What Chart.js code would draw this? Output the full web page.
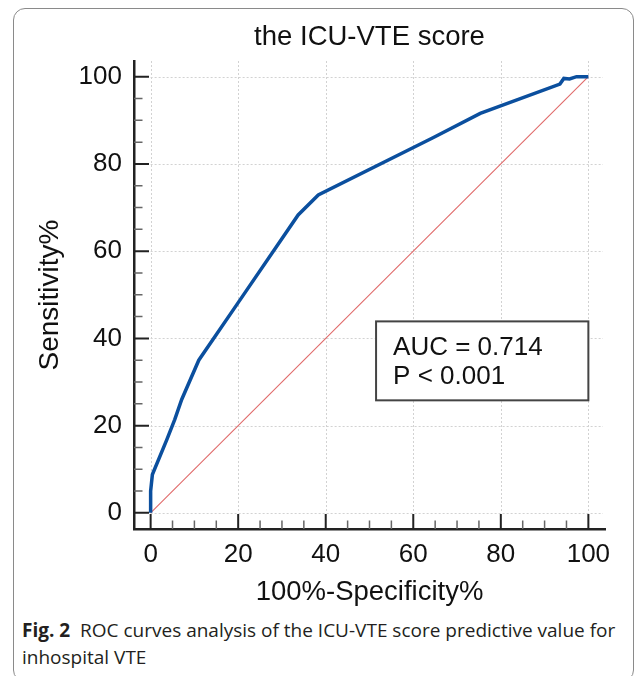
<!DOCTYPE html>
<html>
<head>
<meta charset="utf-8">
<script src="https://cdn.jsdelivr.net/npm/chart.js@4.4.1/dist/chart.umd.min.js"></script>
<style>
  html, body { margin: 0; padding: 0; background: #fff; width: 637px; height: 676px; overflow: hidden; }
  .c-frame { position: absolute; left: 13px; top: 8px; width: 621px; height: 674px; border: 1px solid #8a8a8a; border-radius: 12px; box-sizing: border-box; pointer-events: none; }
  .c-chart { position: absolute; left: 0; top: 0; width: 637px; height: 615px; }
  .c-caption { position: absolute; left: 22px; top: 617px; font-family: 'Open Sans', sans-serif; font-size: 19px; line-height: 27px; color: #231f20; white-space: nowrap; letter-spacing: 0; }
  .c-caption b { font-weight: 700; }
</style>
</head>
<body>
<div class="c-chart"><canvas id="rocChart"></canvas></div>
<div class="c-caption"><b>Fig. 2</b>&nbsp; ROC curves analysis of the ICU-VTE score predictive value for<br>inhospital VTE</div>
<div class="c-frame"></div>
<script>
// ROC curve (100%-Specificity%, Sensitivity%)
const fpr = [0, 0, 0.4, 3.7, 5.5, 7.1, 11, 20, 33.7, 38.3, 64.5, 75.3, 93.5, 94.4, 95.7, 97.3, 100];
const tpr = [0, 5, 8.8, 16.8, 21.4, 26, 35, 48.2, 68.3, 72.9, 86, 91.6, 98.3, 99.6, 99.5, 100, 100];
// chance line
const refX = [0, 100];
const refY = [0, 100];
// tick labels
const xTicks = [0, 20, 40, 60, 80, 100];
const yTicks = [0, 20, 40, 60, 80, 100];
const minorStep = 5;
// annotation text
const statLines = ['AUC = 0.714', 'P < 0.001'];

const FONT = "'Liberation Sans', Arial, sans-serif";

const rocFrame = {
  id: 'rocFrame',
  beforeDatasetsDraw(chart) {
    const { ctx, chartArea, scales: { x, y } } = chart;
    const x0 = x.getPixelForValue(0);
    const y0 = y.getPixelForValue(0);
    ctx.save();
    ctx.strokeStyle = '#d2d2d2';
    ctx.lineWidth = 1;
    ctx.setLineDash([2, 2]);
    ctx.beginPath();
    xTicks.forEach(function (v) {
      const px = Math.round(x.getPixelForValue(v)) + 0.5;
      ctx.moveTo(px, chartArea.top);
      ctx.lineTo(px, y0);
    });
    yTicks.forEach(function (v) {
      const py = Math.round(y.getPixelForValue(v)) + 0.5;
      ctx.moveTo(x0, py);
      ctx.lineTo(chartArea.right - 2, py);
    });
    ctx.stroke();
    ctx.restore();
  },
  afterDraw(chart, args, opts) {
    const { ctx, chartArea, scales: { x, y } } = chart;
    ctx.save();
    // inward ticks, major + minor
    for (let v = 0; v <= 100; v += minorStep) {
      const major = xTicks.includes(v);
      const len = major ? 15 : 8.5;
      ctx.strokeStyle = major ? '#222' : '#666';
      ctx.lineWidth = major ? 2 : 1.5;
      const px = x.getPixelForValue(v);
      const py = y.getPixelForValue(v);
      ctx.beginPath();
      ctx.moveTo(px, chartArea.bottom);
      ctx.lineTo(px, chartArea.bottom - len);
      ctx.moveTo(chartArea.left, py);
      ctx.lineTo(chartArea.left + len, py);
      ctx.stroke();
    }
    // AUC box
    const bx = x.getPixelForValue(opts.box[0]);
    const bx2 = x.getPixelForValue(opts.box[1]);
    const by = y.getPixelForValue(opts.box[3]);
    const by2 = y.getPixelForValue(opts.box[2]);
    ctx.fillStyle = '#fff';
    ctx.fillRect(bx, by, bx2 - bx, by2 - by);
    ctx.strokeStyle = '#444';
    ctx.lineWidth = 2;
    ctx.strokeRect(bx, by, bx2 - bx, by2 - by);
    ctx.fillStyle = '#111';
    ctx.font = '26px ' + FONT;
    ctx.textBaseline = 'middle';
    ctx.textAlign = 'left';
    statLines.forEach(function (t, i) {
      ctx.fillText(t, bx + 17, by + 26 + i * 29);
    });
    ctx.restore();
  },
};

const makeChart = function () {
  const data = {
    datasets: [
      {
        label: 'ICU-VTE score',
        data: fpr.map((v, i) => ({ x: v, y: tpr[i] })),
        borderColor: '#0b4f9e',
        borderWidth: 3.5,
        pointRadius: 0,
        tension: 0,
        order: 1,
      },
      {
        label: 'Reference',
        data: refX.map((v, i) => ({ x: v, y: refY[i] })),
        borderColor: '#e06a6a',
        borderWidth: 1.1,
        pointRadius: 0,
        order: 2,
      },
    ],
  };

  const config = {
    type: 'line',
    data,
    options: {
      responsive: true,
      maintainAspectRatio: false,
      animation: false,
      events: [],
      layout: { padding: { top: 0, left: 0, right: 32, bottom: 0 } },
      scales: {
        x: {
          type: 'linear',
          min: -3.8,
          max: 103.8,
          afterBuildTicks: (s) => { s.ticks = xTicks.map((v) => ({ value: v })); },
          afterFit: (s) => { s.height = 86; },
          grid: { display: false, drawTicks: false },
          border: { display: true, color: '#222', width: 2.5 },
          ticks: { color: '#111', font: { family: FONT, size: 26 }, padding: 10, maxRotation: 0 },
          title: { display: true, text: '100%-Specificity%', color: '#111', font: { family: FONT, size: 27.5 }, padding: { top: 0, bottom: 6 } },
        },
        y: {
          type: 'linear',
          min: -3.7,
          max: 103.6,
          afterBuildTicks: (s) => { s.ticks = yTicks.map((v) => ({ value: v })); },
          afterFit: (s) => { s.width = 134; },
          grid: { display: false, drawTicks: false },
          border: { display: true, color: '#222', width: 2.5 },
          ticks: { color: '#111', font: { family: FONT, size: 26 }, padding: 12 },
          title: { display: true, text: 'Sensitivity%', color: '#111', font: { family: FONT, size: 28 }, padding: { top: 33, bottom: 0 } },
        },
      },
      plugins: {
        legend: { display: false },
        tooltip: { enabled: false },
        title: {
          display: true,
          fullSize: false,
          text: 'the ICU-VTE score',
          color: '#111',
          font: { family: FONT, size: 27.5, weight: 'normal' },
          padding: { top: 20.5, bottom: 7.5 },
        },
        rocFrame: { box: [51.5, 100, 25.8, 43.9] },
      },
    },
    plugins: [rocFrame],
  };

  new Chart(document.getElementById('rocChart'), config);
};

document.addEventListener('DOMContentLoaded', makeChart);
</script>
</body>
</html>
